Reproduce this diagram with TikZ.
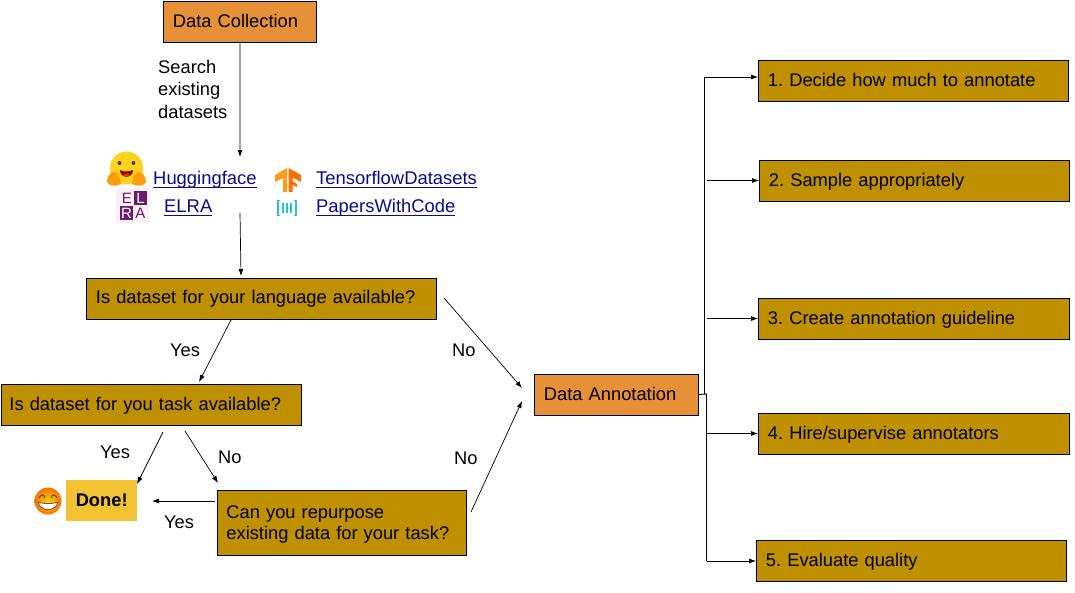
\documentclass[tikz,border=0pt]{standalone}
\usepackage{fontspec}
\setmainfont{Liberation Sans}
\usetikzlibrary{arrows.meta}
\definecolor{goldbox}{HTML}{BF9000}
\definecolor{orangebox}{HTML}{E69138}
\definecolor{donebox}{HTML}{F1C232}
\definecolor{linkblue}{HTML}{0A0A8A}
\definecolor{hugface}{HTML}{FFD21E}
\definecolor{hughand}{HTML}{FF9D0B}
\definecolor{elrapurple}{HTML}{6A1B6E}
\definecolor{tfdark}{HTML}{FF6F00}
\definecolor{tflight}{HTML}{FF9A1A}
\definecolor{pwcteal}{HTML}{21C8CC}
\newcommand{\linktext}[1]{\underline{\smash{#1}\rule[-1.6pt]{0pt}{1pt}}}
\frenchspacing
\begin{document}
\begin{tikzpicture}[x=1pt,y=-1pt]
    % Box and connector style definitions
    \tikzset{
        every node/.style={font=\fontsize{18.3}{22}\selectfont},
        flowbox/.style={draw=black, line width=0.9pt, anchor=north west, align=left, inner xsep=9.5pt, inner ysep=0pt, text width=#1-19pt},
        goldflow/.style={flowbox=#1, fill=goldbox, minimum height=41pt},
        orangeflow/.style={flowbox=#1, fill=orangebox, minimum height=41pt},
        label/.style={inner sep=0pt, anchor=west},
        link/.style={inner sep=0pt, anchor=base west, text=linkblue, font=\fontsize{18.42}{22}\selectfont},
        elraletter/.style={inner sep=0pt, font=\fontsize{15}{15}\selectfont\rmfamily},
        flow/.style={black, line width=0.7pt, -{Latex[length=7pt,width=5pt]}},
        trunk/.style={black, line width=0.9pt},
        pwcline/.style={pwcteal, line width=1.6pt}
    }
    \useasboundingbox (0,0) rectangle (1075,592);

    % ==========================================
    % LEFT COLUMN (search and questions)
    % ==========================================
    \node[orangeflow=153pt] (collect) at (163,0.5) {Data Collection};
    \node[label, align=left, font=\fontsize{18.3}{22.5}\selectfont] (search) at (158,89) {Search\\existing\\datasets};

    \node[link] (hugging) at (153,184) {\linktext{Huggingface}};
    \node[link] (elra) at (164,212) {\linktext{ELRA}};
    \node[link] (tfds) at (316,184.5) {\linktext{TensorflowDatasets}};
    \node[link] (pwc) at (316,212) {\linktext{PapersWithCode}};

    \node[goldflow=350pt] (language) at (86,278) {Is dataset for your language available?};
    \node[goldflow=300pt, text width=284pt, inner xsep=8pt] (task) at (1,384) {\rule{0pt}{15pt}Is dataset for you task available?};
    \node[goldflow=249pt, text width=231pt, inner xsep=9pt, minimum height=65pt, font=\fontsize{18.3}{21}\selectfont] (repurpose) at (217,490) {\rule{0pt}{15.5pt}Can you repurpose\\existing data for your task?};
    \node[anchor=north west, fill=donebox, minimum width=71pt, minimum height=41pt, inner sep=0pt, font=\fontsize{18.3}{22}\selectfont\bfseries] (done) at (66,480) {Done!};

    \node[label] (yesa) at (170,350) {Yes};
    \node[label] (noa) at (452,350) {No};
    \node[label] (yesb) at (100,452) {Yes};
    \node[label] (nob) at (218,457) {No};
    \node[label] (yesc) at (164,522) {Yes};
    \node[label] (noc) at (454,458) {No};

    % ==========================================
    % RIGHT COLUMN (annotation steps)
    % ==========================================
    \node[orangeflow=164pt] (annotation) at (534,373.5) {Data Annotation};
    \node[goldflow=310pt] (stepa) at (758,59.5) {1. Decide how much to annotate};
    \node[goldflow=310pt] (stepb) at (759,159.5) {\rule{0pt}{15pt}2. Sample appropriately};
    \node[goldflow=311pt] (stepc) at (758,298) {\rule{0pt}{15pt}3. Create annotation guideline};
    \node[goldflow=311pt] (stepd) at (758,413) {\rule{0pt}{15pt}4. Hire/supervise annotators};
    \node[goldflow=310pt] (stepe) at (756,539.5) {\rule{0pt}{15pt}5. Evaluate quality};

    % Free ends of the connectors
    \coordinate (linksin) at (240,157);
    \coordinate (linksout) at (240,213);
    \coordinate (langin) at (241,276);
    \coordinate (langyes) at (231,320);
    \coordinate (taskin) at (199,382);
    \coordinate (langno) at (444,298);
    \coordinate (annota) at (522,388);
    \coordinate (repno) at (471,512);
    \coordinate (annotb) at (522,401);
    \coordinate (taskyes) at (163,432);
    \coordinate (donein) at (137,484);
    \coordinate (taskno) at (185,431);
    \coordinate (repin) at (218,483);
    \coordinate (repyes) at (215,501);
    \coordinate (doneback) at (152,501);
    \coordinate (knee) at (706.5,394);
    \coordinate (trunktop) at (704.5,77);
    \coordinate (trunkend) at (706.5,561);
    \coordinate (stepbout) at (707,180.5);
    \coordinate (stepcout) at (706.5,318.5);
    \coordinate (stepdout) at (707,433.5);

    % Left column connectors
    \draw[flow] (collect.south) -- (linksin);
    \draw[flow] (linksout) -- (langin);
    \draw[flow] (langyes) -- (taskin);
    \draw[flow] (langno) -- (annota);
    \draw[flow] (repno) -- (annotb);
    \draw[flow] (taskyes) -- (donein);
    \draw[flow] (taskno) -- (repin);
    \draw[flow] (repyes) -- (doneback);

    % Trunk to the steps
    \draw[trunk] (annotation.east) -- (knee) -- (trunkend);
    \draw[trunk] (trunktop) -- (trunktop |- knee);
    \draw[flow] (trunktop) -- (trunktop -| stepa.west);
    \draw[flow] (stepbout) -- (stepbout -| stepb.west);
    \draw[flow] (stepcout) -- (stepcout -| stepc.west);
    \draw[flow] (stepdout) -- (stepdout -| stepd.west);
    \draw[flow] (trunkend) -- (trunkend -| stepe.west);

    % ==========================================
    % ICONS
    % ==========================================
    % Hugging face
    \fill[hugface] (126.5,168) circle (16.5);
    \fill[hughand] (107,182) .. controls (108,172) and (114,169) .. (119,175) -- (121,184) .. controls (115,187) and (109,186) .. (107,182);
    \fill[hughand] (146,182) .. controls (145,172) and (139,169) .. (134,175) -- (132,184) .. controls (138,187) and (144,186) .. (146,182);
    \fill[black!75] (119.5,163) circle (2) (133.5,163) circle (2);
    \fill[red!50!black] (120,170) .. controls (123,172) and (130,172) .. (133,170) .. controls (133,179) and (120,179) .. (120,170);
    \fill[red!70!orange] (123,174.5) .. controls (125,173) and (128,173) .. (130,174.5) .. controls (129,177) and (124,177) .. (123,174.5);

    % ELRA logo
    \fill[purple!6] (116,188) rectangle (149,223);
    \fill[elrapurple] (134,190.5) rectangle (147,205);
    \fill[elrapurple] (120,206) rectangle (133,220);
    \node[elraletter, text=elrapurple] (elrae) at (127,198) {E};
    \node[elraletter, text=white] (elral) at (140.5,198) {L};
    \node[elraletter, text=white] (elrar) at (126.5,213) {R};
    \node[elraletter, text=elrapurple] (elraa) at (140.5,213) {A};

    % Tensorflow logo
    \fill[tflight] (287,168) -- (287,192) -- (283,192) -- (283,178) -- (275,182) -- (275,175) -- cycle;
    \fill[tfdark] (288.5,168) -- (301,175) -- (301,182) -- (292.5,177.5) -- (292.5,181) -- (297,184) -- (297,187) -- (292.5,185) -- (292.5,192) -- (288.5,192) -- cycle;

    % PapersWithCode logo
    \draw[pwcline] (280,200.5) -- (277.8,200.5) -- (277.8,215.5) -- (280,215.5);
    \draw[pwcline] (294,200.5) -- (296.2,200.5) -- (296.2,215.5) -- (294,215.5);
    \draw[pwcline] (283,203) -- (283,213);
    \draw[pwcline] (287,203) -- (287,213);
    \draw[pwcline] (291,203) -- (291,213);

    % Smiling face
    \shade[inner color=yellow!70!orange, outer color=orange!85!red] (48,501) circle (13.5);
    \draw[black!70, line width=1pt] (39,498) .. controls (41,494) and (44,494) .. (45,498);
    \draw[black!70, line width=1pt] (51,498) .. controls (52,494) and (55,494) .. (57,498);
    \fill[white, draw=black!65, line width=0.8pt] (38,502) .. controls (42,504) and (54,504) .. (58,502) .. controls (56,512) and (40,512) .. (38,502);
\end{tikzpicture}
\end{document}
